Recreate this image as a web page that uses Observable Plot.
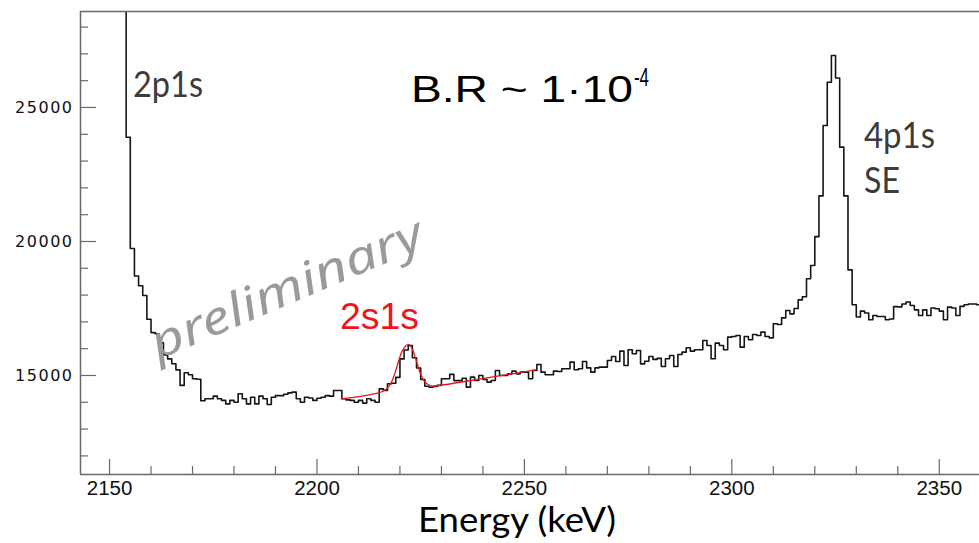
<!DOCTYPE html>
<html>
<head>
<meta charset="utf-8">
<script src="https://cdn.jsdelivr.net/npm/d3@7"></script>
<script src="https://cdn.jsdelivr.net/npm/@observablehq/plot@0.6"></script>
<style>
  html, body { margin: 0; padding: 0; background: #fff; }
  svg { display: block; }
</style>
</head>
<body>
<div id="chart"></div>
<script>
// ---- data ----
const firstBinLow = 2143;       // keV, lower edge of first 1-keV bin
const binWidthKeV = 1;
// counts per bin, 2143 .. 2359 keV (first bins are the 2p1s peak, off scale)
const counts = [
  95000, 110000, 120000, 100000, 80000, 62000, 48000, 40000, 35000, 32000, 30000,
  23890, 19740, 18710, 18350, 17985, 17100, 16600, 16560, 16220, 15770,
  15620, 15440, 15210, 14630, 15100, 15030, 14880, 14860, 14060, 14130,
  14130, 14230, 14130, 14070, 13940, 14070, 14000, 14320, 14130, 13940,
  14190, 13940, 14230, 14130, 13920, 14190, 14250, 14250, 14300, 14350,
  14380, 14130, 14000, 14190, 14160, 14070, 14150, 14190, 14250, 14230,
  14440, 14440, 14130, 14090, 14070, 14000, 14070, 13970, 14130, 14070,
  14000, 14500, 14440, 14690, 14710, 14930, 15620, 15950, 16120, 15660,
  15280, 14850, 14600, 14560, 14590, 14630, 14880, 14880, 15040, 14810,
  14810, 14900, 14565, 14938, 14813, 15000, 14851, 14751, 14813, 15187,
  15000, 15000, 15062, 15162, 15062, 15124, 15124, 14876, 15187, 15410,
  15124, 15025, 15025, 15162, 15150, 15249, 15249, 15497, 15212, 15249,
  15522, 15286, 15124, 15286, 15311, 15311, 15560, 15709, 15522, 15908,
  15373, 15958, 15809, 15933, 15435, 15530, 15709, 15600, 15640, 15336,
  15622, 15746, 15336, 15783, 15871, 16033, 15908, 15958, 15958, 16306,
  16119, 15622, 16207, 16119, 15958, 16430, 16455, 16492, 16057, 16455,
  16331, 16530, 16492, 16617, 16455, 16405, 16928, 16903, 17150, 17425,
  17300, 17500, 17820, 17940, 18607, 19104, 20180, 21700, 24330, 25940,
  26940, 26100, 23520, 21700, 18940, 17640, 17180, 17400, 17330, 17080,
  17240, 17200, 17200, 17080, 17110, 17570, 17560, 17670, 17740, 17610,
  17450, 17240, 17450, 17240, 17520, 17490, 17400, 17080, 17550, 17520,
  17240, 17580, 17640, 17670, 17670, 17640
];
// red fit curve
const fitEnergy = [2206.1, 2210, 2214, 2216, 2217.5, 2218.5, 2219.5, 2220.5, 2221.5, 2222.2,
                   2223, 2224, 2225, 2226, 2227.5, 2230, 2237, 2245, 2252.7];
const fitCounts = [14130, 14210, 14320, 14420, 14620, 14950, 15450, 15900, 16120, 16150,
                   15980, 15520, 15050, 14760, 14610, 14640, 14813, 15010, 15212];
const xMajorTicks = [2150, 2200, 2250, 2300, 2350];
const xMinorTicks = [2160, 2170, 2180, 2190, 2210, 2220, 2230, 2240, 2260, 2270, 2280, 2290,
                     2310, 2320, 2330, 2340];
const yMajorTicks = [15000, 20000, 25000];
const yMinorTicks = [12000, 13000, 14000, 16000, 17000, 18000, 19000, 21000, 22000, 23000,
                     24000, 26000, 27000, 28000];
const xDomain = [2143, 2359.7];
const yDomain = [11306, 28581];

// ---- build tables ----
const hist = counts.map((v, i) => ({e: firstBinLow + i * binWidthKeV, v}));
hist.push({e: firstBinLow + counts.length * binWidthKeV, v: counts[counts.length - 1]});
const fit = fitEnergy.map((e, i) => ({e, v: fitCounts[i]}));

const W = 979, H = 543;
const mL = 80, mR = 0, mT = 11, mB = 69;
const plotW = W - mL - mR, plotH = H - mT - mB;
const axisColor = "#6a6a6a";

const svg = Plot.plot({
  width: W, height: H,
  marginLeft: mL, marginRight: mR, marginTop: mT, marginBottom: mB,
  style: {background: "#fff", fontFamily: "Liberation Sans, Arial, sans-serif"},
  x: {domain: xDomain, axis: null},
  y: {domain: yDomain, axis: null},
  marks: [
    Plot.line(hist, {x: "e", y: "v", curve: "step-after", stroke: "#151515", strokeWidth: 1.6, clip: true}),
    Plot.line(fit, {x: "e", y: "v", curve: "catmull-rom", stroke: "#e8151b", strokeWidth: 1.3, clip: true}),
    // ticks (inward)
    Plot.tickX(xMajorTicks, {x: d => d, insetTop: plotH - 15, stroke: axisColor, strokeWidth: 1.2}),
    Plot.tickX(xMinorTicks, {x: d => d, insetTop: plotH - 8, stroke: axisColor, strokeWidth: 1.2}),
    Plot.tickY(yMajorTicks, {y: d => d, insetRight: plotW - 16, stroke: axisColor, strokeWidth: 1.2}),
    Plot.tickY(yMinorTicks, {y: d => d, insetRight: plotW - 8, stroke: axisColor, strokeWidth: 1.2}),
    // frame lines: left, bottom, top
    Plot.ruleX([xDomain[0]], {stroke: axisColor, strokeWidth: 1.5}),
    Plot.ruleY([yDomain[0]], {stroke: axisColor, strokeWidth: 1.5}),
    Plot.ruleY([yDomain[1]], {stroke: axisColor, strokeWidth: 1.5}),
    // tick labels
    Plot.text(xMajorTicks, {x: d => d, text: d => String(d), frameAnchor: "bottom", lineAnchor: "top",
      dy: 6, fontSize: 20.5, fill: "#111", fontFamily: "Liberation Sans"}),
    Plot.text(yMajorTicks, {y: d => d, text: d => String(d), frameAnchor: "left", textAnchor: "end",
      dx: -7, fontSize: 16, fill: "#111", fontFamily: "DejaVu Sans"})
  ]
});
document.getElementById("chart").appendChild(svg);

const s = d3.select(svg);
s.selectAll("text").filter(function() { return this.textContent.length === 5; })
  .attr("letter-spacing", "1.5px");

function addText(txt, x, y, opts) {
  const t = s.append("text").attr("x", x).attr("y", y).text(txt)
    .attr("text-anchor", "start")
    .attr("font-family", opts.family || "Lato")
    .attr("font-size", opts.size)
    .attr("fill", opts.fill || "#111");
  if (opts.len) t.attr("textLength", opts.len).attr("lengthAdjust", "spacingAndGlyphs");
  if (opts.style) t.attr("font-style", opts.style);
  if (opts.weight) t.attr("font-weight", opts.weight);
  if (opts.rotate) t.attr("transform", `rotate(${opts.rotate},${x},${y})`);
  return t;
}

// axis title
addText("Energy (keV)", 418, 532, {size: 34, len: 198, fill: "#000"});
// annotations
addText("2p1s", 133, 97, {size: 36, len: 70, fill: "#3c3c3c"});
addText("4p1s", 864, 148, {size: 36, len: 71, fill: "#3c3c3c"});
addText("SE", 864, 193, {size: 36, len: 36, fill: "#3c3c3c"});
addText("2s1s", 340, 328.5, {size: 36, len: 79, fill: "#f0141c", family: "Liberation Sans"});
addText("B.R ~ 1·10", 411, 101.7, {size: 37, len: 222, fill: "#000", family: "Liberation Sans"});
addText("-4", 634, 86, {size: 25, len: 15, fill: "#000", family: "Liberation Sans"});
addText("preliminary", 158, 360, {size: 46, len: 292, fill: "#9a9a9a", family: "Noto Sans", style: "italic", rotate: -23});
</script>
</body>
</html>
